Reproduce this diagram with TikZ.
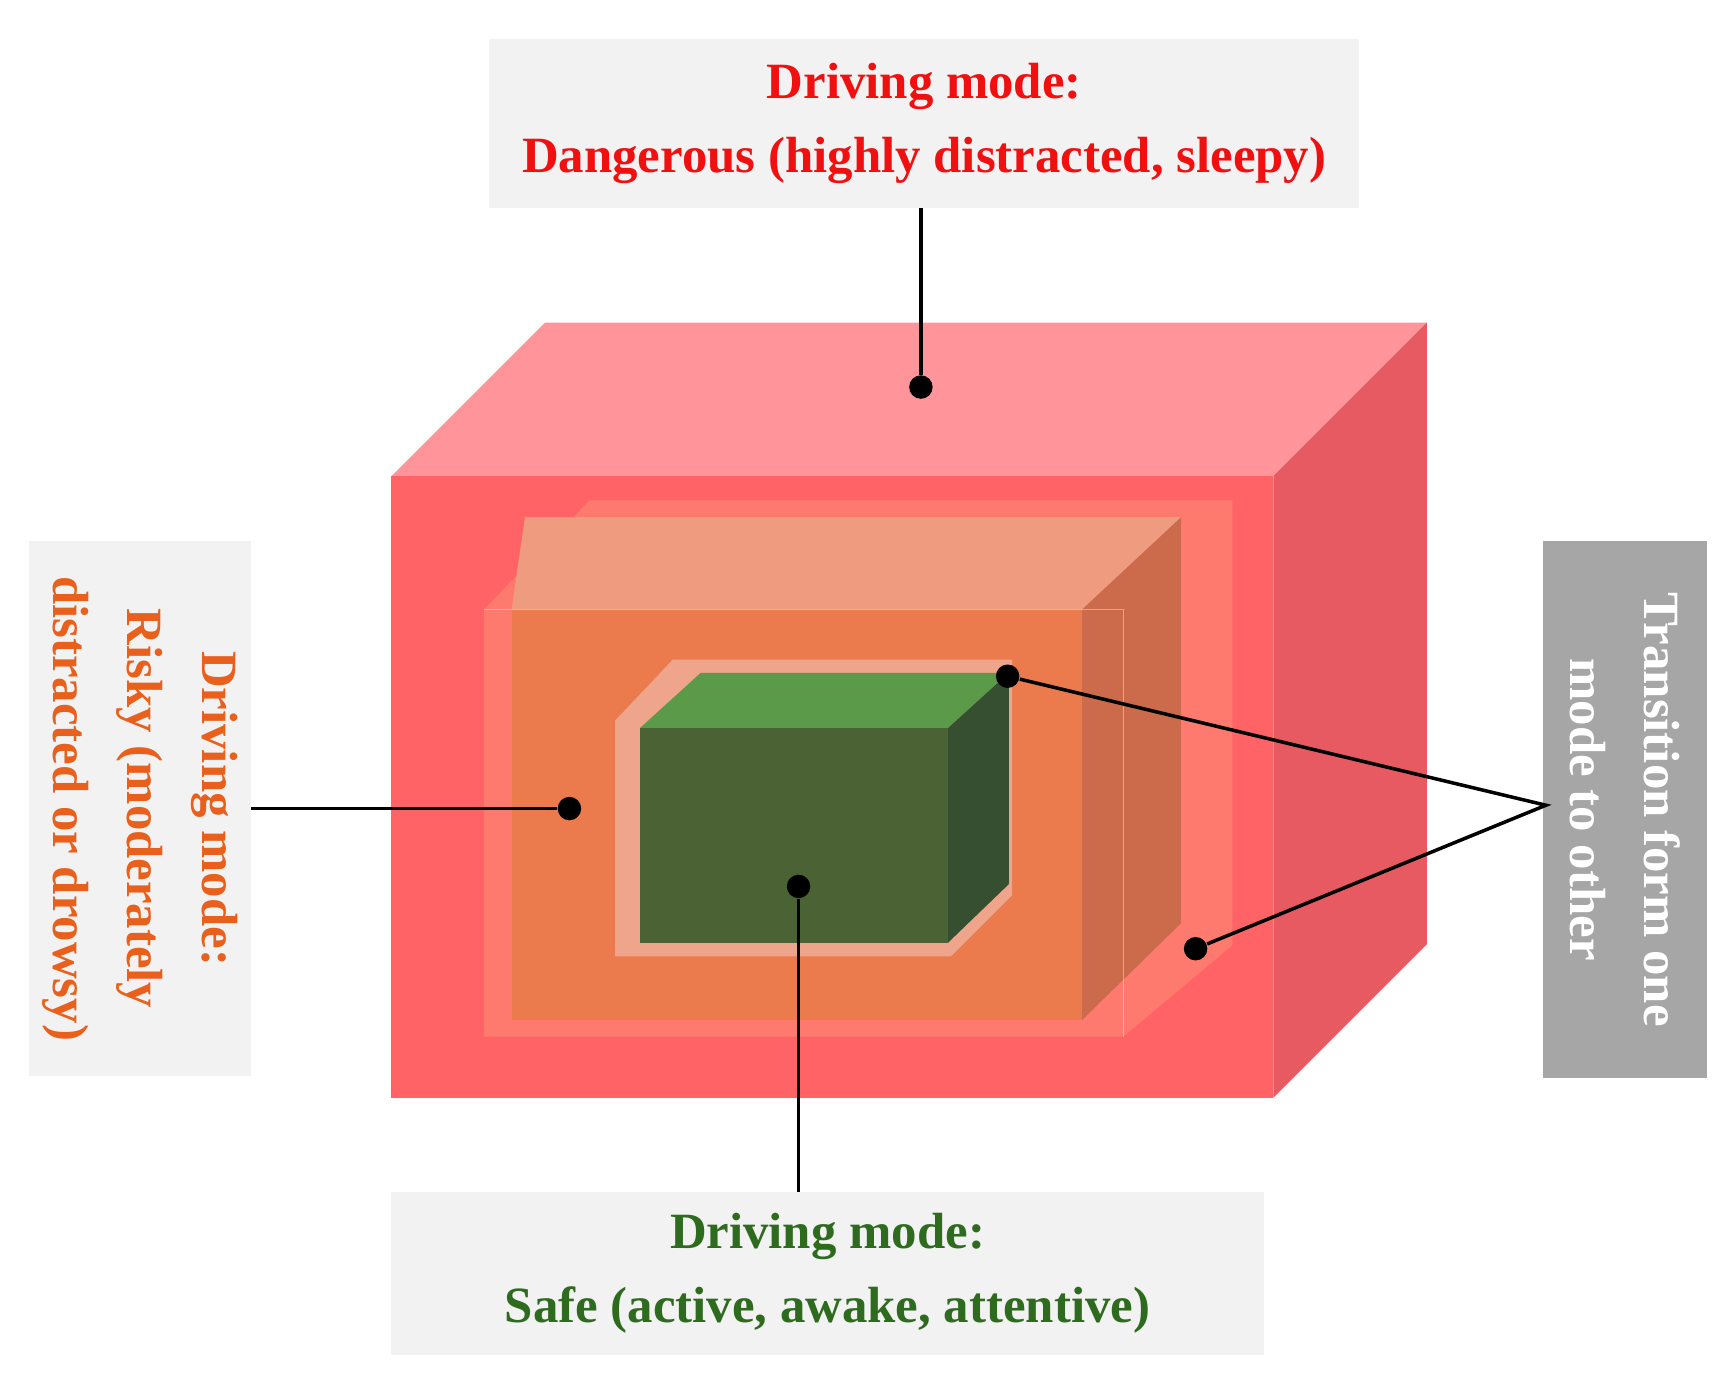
\documentclass[tikz,border=0pt]{standalone}
\usepackage{fontspec}
\setmainfont{Liberation Serif}
\definecolor{redfront}{HTML}{FF6366}
\definecolor{redtop}{HTML}{FF949A}
\definecolor{redside}{HTML}{E85A62}
\definecolor{paleframe}{HTML}{FF7A6E}
\definecolor{orgfront}{HTML}{EB7B4C}
\definecolor{orgtop}{HTML}{EE9B7F}
\definecolor{orgside}{HTML}{CB6B4C}
\definecolor{grnframe}{HTML}{EFA58C}
\definecolor{grnfront}{HTML}{4B6334}
\definecolor{grntop}{HTML}{5A9A48}
\definecolor{grnside}{HTML}{364F30}
\definecolor{labelbg}{HTML}{F2F2F2}
\definecolor{txtred}{HTML}{F01010}
\definecolor{txtorg}{HTML}{E8601C}
\definecolor{txtgrn}{HTML}{2E6B1F}
\tikzset{
  labelbox/.style={fill=labelbg, inner sep=0pt, align=center, font=\bfseries\fontsize{13}{19}\selectfont},
  pin/.style={circle, fill=black, inner sep=0pt, minimum size=6pt},
  leader/.style={line width=0.9pt}
}
\begin{document}
\begin{tikzpicture}[x=0.01cm, y=-0.01cm]
  \useasboundingbox (0,0) rectangle (1560,1242);
  % outer box
  \fill [redtop] (352,428) -- (490,290) -- (1283,290) -- (1145,428) -- cycle;
  \fill [redside] (1145,428) -- (1283,290) -- (1283,849) -- (1145,987) -- cycle;
  \fill [redfront] (352,428) rectangle (1145,987);
  % middle box
  \fill [paleframe] (435,548) -- (530,450) -- (1108,450) -- (1108,850) -- (1010,932) -- (435,932) -- cycle;
  \fill [orgtop] (460,548) -- (472,465) -- (1062,465) -- (973,548) -- cycle;
  \fill [orgside] (973,548) -- (1062,465) -- (1062,830) -- (973,917) -- cycle;
  \fill [orgfront] (460,548) rectangle (973,917);
  \draw [white, opacity=0.4] (435,548) -- (1010,548) -- (1010,932);
  % inner box
  \fill [grnframe] (553,648) -- (605,593) -- (910,593) -- (910,805) -- (855,860) -- (553,860) -- cycle;
  \fill [grntop] (575,655) -- (630,605) -- (907,605) -- (852,655) -- cycle;
  \fill [grnside] (852,655) -- (907,605) -- (907,795) -- (852,848) -- cycle;
  \fill [grnfront] (575,655) rectangle (852,848);

  % labels
  \node [labelbox, text=txtred, minimum width=782\pgflinewidth] (danger) at (831,111)
    [minimum width=7.82cm, minimum height=1.52cm] {Driving mode:\\Dangerous (highly distracted, sleepy)};
  \node [labelbox, text=txtorg, rotate=-90, minimum width=4.8cm, minimum height=1.99cm] (risky) at (126,727)
    {Driving mode:\\Risky (moderately\\distracted or drowsy)};
  \node [labelbox, text=txtgrn, minimum width=7.85cm, minimum height=1.46cm] (safe) at (744,1145)
    {Driving mode:\\Safe (active, awake, attentive)};
  \node [labelbox, fill=gray!70, text=white, rotate=-90, minimum width=4.82cm, minimum height=1.47cm] (trans) at (1461,728)
    {Transition form one\\mode to other};

  % pins
  \node [pin] (pdanger) at (828,348) {};
  \node [pin] (prisky) at (512,727) {};
  \node [pin] (psafe) at (718,797) {};
  \node [pin] (ptransa) at (906,608) {};
  \node [pin] (ptransb) at (1075,853) {};
  \coordinate (tdanger) at (828,187);
  \coordinate (trisky) at (226,727);
  \coordinate (tsafe) at (718,1072);
  \coordinate (ttrans) at (1390,724);

  \draw [leader] (tdanger) -- (pdanger);
  \draw [leader] (trisky) -- (prisky);
  \draw [leader] (tsafe) -- (psafe);
  \draw [leader] (ptransa) -- (ttrans) -- (ptransb);
\end{tikzpicture}
\end{document}
